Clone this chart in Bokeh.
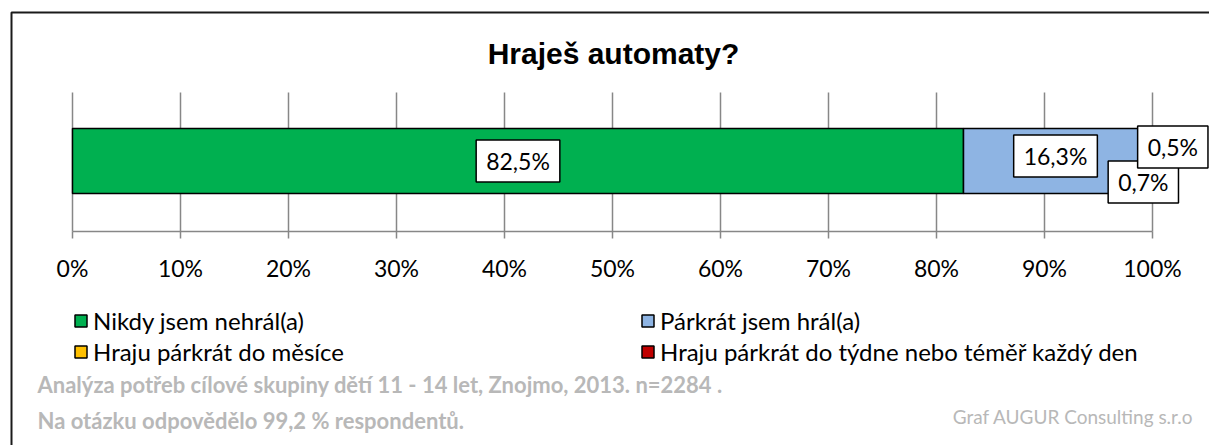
from bokeh.plotting import figure
from bokeh.models import (Range1d, Label, Legend, LegendItem,
                          BoxAnnotation, ColumnDataSource)
from bokeh.core.properties import value
from bokeh.embed import file_html
from bokeh.resources import INLINE

# ---------------- data ----------------
TITLE = "Hraješ automaty?"
CATEGORIES = ["Nikdy jsem nehrál(a)",
              "Párkrát jsem hrál(a)",
              "Hraju párkrát do měsíce",
              "Hraju párkrát do týdne nebo téměř každý den"]
VALUES = [82.5, 16.3, 0.7, 0.5]
VALUE_LABELS = ["82,5%", "16,3%", "0,7%", "0,5%"]
COLORS = ["#00B050", "#8EB4E3", "#FFC000", "#C00000"]
TICKS = [0, 10, 20, 30, 40, 50, 60, 70, 80, 90, 100]
TICK_LABELS = ["0%", "10%", "20%", "30%", "40%", "50%",
               "60%", "70%", "80%", "90%", "100%"]
FOOTER_1 = "Analýza potřeb cílové skupiny dětí 11 - 14 let, Znojmo, 2013. n=2284 ."
FOOTER_2 = "Na otázku odpovědělo 99,2 % respondentů."
CREDIT = "Graf AUGUR Consulting s.r.o"

# ---------------- layout / style ----------------
W, H = 1209, 445
PLOT_L, PLOT_R = 72, 1152          # pixel position of 0 % and 100 %
PX_PER_PCT = (PLOT_R - PLOT_L) / 100.0
GRID_TOP, AXIS_Y = 92, 231         # vertical extent of plot area (px from top)
BAR_Y, BAR_H = 160.5, 65
TICK_LEN = 7
TICK_LABEL_Y = 267
LABEL_DX = [0, 4, 0, 23]           # data-label offsets (screen px)
LABEL_DY = [0, 5, -21, 14]

FONT = "Lato"
GRAY = "#878787"
FOOT_GRAY = "#b8b8b8"

p = figure(width=W, height=H, output_backend="svg", toolbar_location=None,
           x_range=Range1d(-PLOT_L / PX_PER_PCT, (W - PLOT_L) / PX_PER_PCT),
           y_range=Range1d(H, 0),
           x_axis_location=None, y_axis_location=None, title=None,
           min_border_left=0, min_border_right=0,
           min_border_top=0, min_border_bottom=0)
p.outline_line_color = None
p.grid.visible = False
p.background_fill_color = "white"
p.border_fill_color = "white"

# grid lines, axis line, ticks (driven by TICKS)
n = len(TICKS)
p.segment(x0=TICKS, x1=TICKS, y0=[GRID_TOP] * n, y1=[AXIS_Y] * n,
          line_color=GRAY, line_width=1.5)
p.segment(x0=[TICKS[0]], x1=[TICKS[-1]], y0=[AXIS_Y], y1=[AXIS_Y],
          line_color=GRAY, line_width=1.5)
p.segment(x0=TICKS, x1=TICKS, y0=[AXIS_Y] * n, y1=[AXIS_Y + TICK_LEN] * n,
          line_color=GRAY, line_width=1.5)
p.text(x=TICKS, y=[TICK_LABEL_Y] * n, text=TICK_LABELS,
       text_align="center", text_baseline="middle",
       text_font=value(FONT), text_font_size="23px", text_color="black")

# stacked bar
keys = [f"s{i}" for i in range(len(VALUES))]
src_data = {"y": [BAR_Y]}
for k, v in zip(keys, VALUES):
    src_data[k] = [v]
source = ColumnDataSource(src_data)
renderers = p.hbar_stack(keys, y="y", height=BAR_H, color=COLORS, source=source,
                         line_color="black", line_width=1.5)

# data labels
has_padding = "padding" in Label.properties()
start = 0.0
for i, (v, txt) in enumerate(zip(VALUES, VALUE_LABELS)):
    lbl = Label(x=start + v / 2.0, y=BAR_Y, text=txt,
                x_offset=LABEL_DX[i], y_offset=LABEL_DY[i],
                text_align="center", text_baseline="middle",
                text_font=FONT, text_font_size="23px", text_color="black",
                background_fill_color="white", border_line_color="black",
                border_line_width=1.5)
    if has_padding:
        lbl.padding = dict(left=10, right=10, top=7, bottom=7)
    p.add_layout(lbl)
    start += v

# title
p.add_layout(Label(x=613, y=H - 53, x_units="screen", y_units="screen", text=TITLE,
                   text_font="Liberation Sans", text_font_style="bold",
                   text_font_size="30px", text_align="center",
                   text_baseline="middle", text_color="black"))

# legends (two columns, rows centred at ROW_Y)
ROW_Y = [320, 351]
ITEM_H = 29

def make_legend(idx, xpos):
    items = [LegendItem(label=CATEGORIES[i], renderers=[renderers[i]]) for i in idx]
    gap = ROW_Y[1] - ROW_Y[0] - ITEM_H
    bottom = ROW_Y[-1] + ITEM_H / 2.0
    return Legend(items=items, location=(xpos, H - bottom), orientation="vertical",
                  glyph_width=15, glyph_height=15, label_standoff=5,
                  spacing=gap, padding=0, margin=0, label_height=ITEM_H,
                  border_line_color=None, background_fill_alpha=0,
                  label_text_font=FONT, label_text_font_size="24px",
                  label_text_color="black")

p.add_layout(make_legend([0, 2], 73), "center")
p.add_layout(make_legend([1, 3], 640), "center")

# footers
p.add_layout(Label(x=37, y=H - 384, x_units="screen", y_units="screen", text=FOOTER_1,
                   text_font=FONT, text_font_style="bold", text_font_size="22px",
                   text_color=FOOT_GRAY, text_baseline="middle", text_align="left"))
p.add_layout(Label(x=37, y=H - 420, x_units="screen", y_units="screen", text=FOOTER_2,
                   text_font=FONT, text_font_style="bold", text_font_size="22px",
                   text_color=FOOT_GRAY, text_baseline="middle", text_align="left"))
p.add_layout(Label(x=1193, y=H - 416, x_units="screen", y_units="screen", text=CREDIT,
                   text_font=FONT, text_font_size="19px",
                   text_color=FOOT_GRAY, text_baseline="middle", text_align="right"))

# outer border (right/bottom edges lie beyond the picture, as in the reference)
p.add_layout(BoxAnnotation(left=11, right=W + 200, top=H - 12, bottom=-200,
                           left_units="screen", right_units="screen",
                           top_units="screen", bottom_units="screen",
                           fill_alpha=0, line_color="#1a1a1a", line_alpha=1.0,
                           line_width=2))

open("out.html", "w").write(file_html(p, INLINE))
